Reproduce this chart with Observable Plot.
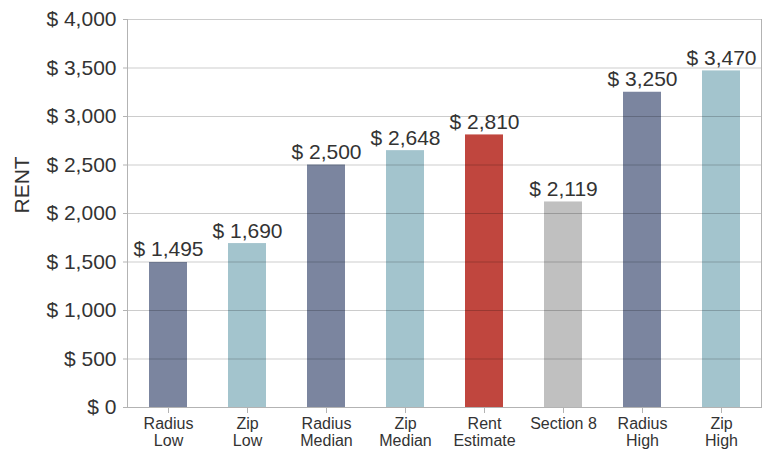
<!DOCTYPE html>
<html>
<head>
<meta charset="utf-8">
<script src="https://cdn.jsdelivr.net/npm/d3@7"></script>
<script src="https://cdn.jsdelivr.net/npm/@observablehq/plot@0.6"></script>
<style>
  body { margin: 0; background: #fff; }
  svg { font-family: "Liberation Sans", Arial, sans-serif; }
</style>
</head>
<body>
<div id="chart"></div>
<script>
const categories = ["Radius\nLow", "Zip\nLow", "Radius\nMedian", "Zip\nMedian", "Rent\nEstimate", "Section 8", "Radius\nHigh", "Zip\nHigh"];
const rents = [1495, 1690, 2500, 2648, 2810, 2119, 3250, 3470];
const groups = ["Radius", "Zip", "Radius", "Zip", "Estimate", "Section 8", "Radius", "Zip"];
const yTicks = [0, 500, 1000, 1500, 2000, 2500, 3000, 3500, 4000];

const groupDomain = ["Radius", "Zip", "Estimate", "Section 8"];
const groupColors = ["#7b859f", "#a3c4cd", "#c0463e", "#c0c0c0"];

const data = categories.map((c, i) => ({category: c, rent: rents[i], group: groups[i]}));
const money = d => "$ " + d3.format(",")(d);

const chart = Plot.plot({
  width: 770,
  height: 454,
  marginLeft: 127,
  marginRight: 9,
  marginTop: 19,
  marginBottom: 47,
  style: {fontFamily: "Liberation Sans, Arial, sans-serif", color: "#333", background: "#fff"},
  x: {domain: categories, paddingInner: 0.52, paddingOuter: 0.26, label: null},
  y: {domain: [0, 4000], ticks: yTicks, label: null},
  color: {domain: groupDomain, range: groupColors},
  marks: [
    Plot.barY(data, {x: "category", y: "rent", fill: "group"}),
    Plot.ruleY(yTicks, {stroke: "#000", strokeOpacity: 0.2}),
    Plot.frame({anchor: "left", stroke: "#b3b3b3"}),
    Plot.frame({anchor: "right", stroke: "#b3b3b3"}),
    Plot.frame({anchor: "bottom", stroke: "#b3b3b3"}),
    Plot.axisY({ticks: yTicks, tickFormat: money, tickSize: 4, tickPadding: 7, fontSize: 21, stroke: "#b3b3b3", fill: "#333", label: null}),
    Plot.axisX({tickSize: 6, tickPadding: 3, fontSize: 16, lineHeight: 1.06, stroke: "#b3b3b3", fill: "#333", label: null}),
    Plot.text(data, {x: "category", y: "rent", text: d => money(d.rent), lineAnchor: "bottom", dy: -6, fontSize: 21, fill: "#333"}),
    Plot.text(["RENT"], {frameAnchor: "left", dx: -105, rotate: -90, fontSize: 21, fill: "#333"})
  ]
});
document.getElementById("chart").appendChild(chart);
</script>
</body>
</html>
